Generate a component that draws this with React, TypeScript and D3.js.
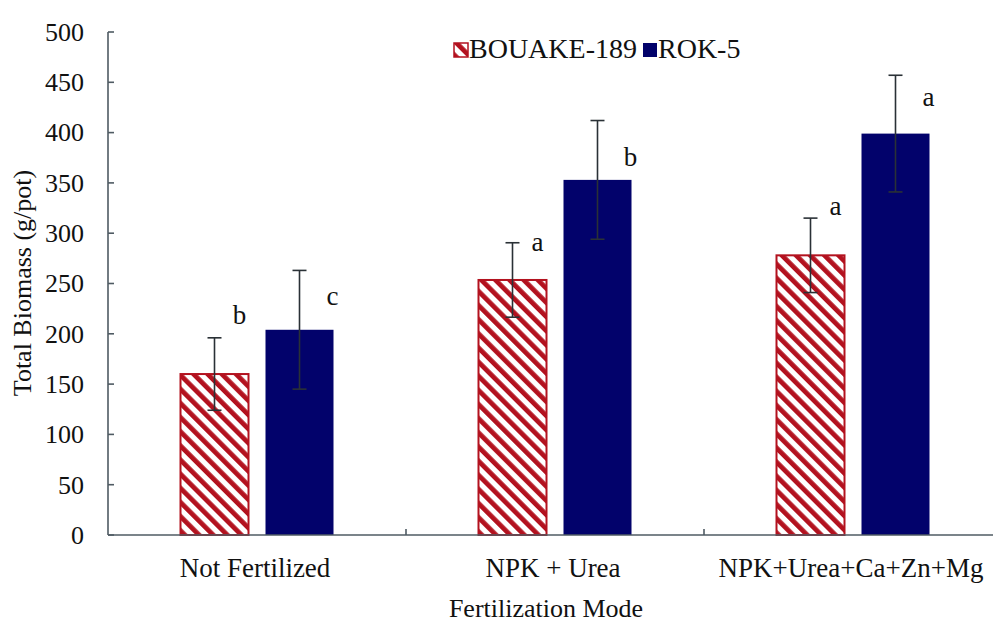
import React from "react";
import * as d3 from "d3";

const categories = ["Not Fertilized", "NPK + Urea", "NPK+Urea+Ca+Zn+Mg"];
const seriesNames = ["BOUAKE-189", "ROK-5"];
const bouakeValues = [160, 253.5, 278];
const rokValues = [204, 353, 399];
const bouakeErrors = [36, 37, 37];
const rokErrors = [59, 59, 58];
const bouakeLetters = ["b", "a", "a"];
const rokLetters = ["c", "b", "a"];
const bouakeLetterY = [210, 282, 318];
const rokLetterY = [229, 367, 426];
const yTicks = [0, 50, 100, 150, 200, 250, 300, 350, 400, 450, 500];

const W = 993;
const H = 622;
const margin = { left: 108, top: 32, bottom: 87 };
const FONT = "'Liberation Serif', 'Times New Roman', serif";
const NAVY = "#02026b";
const RED = "#b3121f";
const AXIS = "#4f5b63";

export default function App() {
  const y = d3.scaleLinear().domain([0, 500]).range([H - margin.bottom, margin.top]);
  const x = d3.scaleBand<string>().domain(categories).range([margin.left, margin.left + 894]).padding(0);
  const groupW = 153;
  const xs = d3.scaleBand<string>().domain(seriesNames).range([0, groupW]).paddingInner(0.2).paddingOuter(0);
  const bw = xs.bandwidth();
  const y0 = y(0);

  const series = [
    { name: seriesNames[0], values: bouakeValues, errors: bouakeErrors, letters: bouakeLetters, ly: bouakeLetterY, dx: 25 },
    { name: seriesNames[1], values: rokValues, errors: rokErrors, letters: rokLetters, ly: rokLetterY, dx: 33 },
  ];

  const barX = (cat: string, s: string) => (x(cat) as number) + (x.bandwidth() - groupW) / 2 + (xs(s) as number);

  return (
    <svg width={W} height={H} style={{ position: "absolute", left: 0, top: 0, background: "#fff" }}>
      <defs>
        <pattern id="hatch" patternUnits="userSpaceOnUse" width="10" height="10" patternTransform="rotate(-45)">
          <rect x="0" y="0" width="10" height="10" fill="#fff" />
          <rect x="0" y="0" width="4.8" height="10" fill={RED} />
        </pattern>
      </defs>
      <rect x={0} y={0} width={W} height={H} fill="#fff" />
      {/* bars */}
      {series.map((s, si) =>
        categories.map((c, ci) => {
          const bx = barX(c, s.name);
          const top = y(s.values[ci]);
          return si === 0 ? (
            <rect key={`${si}-${ci}`} x={bx} y={top} width={bw} height={y0 - top} fill="url(#hatch)" stroke={RED} strokeWidth={2} />
          ) : (
            <rect key={`${si}-${ci}`} x={bx} y={top} width={bw} height={y0 - top} fill={NAVY} />
          );
        })
      )}
      {/* error bars */}
      {series.map((s, si) =>
        categories.map((c, ci) => {
          const cx = barX(c, s.name) + bw / 2;
          const hi = y(s.values[ci] + s.errors[ci]);
          const lo = y(s.values[ci] - s.errors[ci]);
          return (
            <g key={`e${si}-${ci}`} stroke="#2a3136" strokeWidth={1.6}>
              <line x1={cx} x2={cx} y1={hi} y2={lo} />
              <line x1={cx - 7} x2={cx + 7} y1={hi} y2={hi} />
              <line x1={cx - 7} x2={cx + 7} y1={lo} y2={lo} />
            </g>
          );
        })
      )}
      {/* letters */}
      {series.map((s, si) =>
        categories.map((c, ci) => (
          <text key={`l${si}-${ci}`} x={barX(c, s.name) + bw / 2 + s.dx} y={y(s.ly[ci])} fontFamily={FONT} fontSize={27} textAnchor="middle" fill="#111">
            {s.letters[ci]}
          </text>
        ))
      )}
      {/* y axis */}
      <line x1={margin.left} x2={margin.left} y1={y(500)} y2={y0} stroke={AXIS} strokeWidth={1.6} />
      {yTicks.map((t) => (
        <g key={t}>
          <line x1={margin.left} x2={margin.left + 6} y1={y(t)} y2={y(t)} stroke={AXIS} strokeWidth={1.6} />
          <text x={84} y={y(t)} dy="0.34em" textAnchor="end" fontFamily={FONT} fontSize={26} fill="#111">
            {t}
          </text>
        </g>
      ))}
      {/* x axis */}
      <line x1={margin.left} x2={W} y1={y0} y2={y0} stroke={AXIS} strokeWidth={1.6} />
      {categories.slice(1).map((c) => (
        <line key={`t${c}`} x1={x(c) as number} x2={x(c) as number} y1={y0} y2={y0 - 6} stroke={AXIS} strokeWidth={1.6} />
      ))}
      {categories.map((c) => (
        <text key={`c${c}`} x={(x(c) as number) + x.bandwidth() / 2 - 2} y={577} textAnchor="middle" fontFamily={FONT} fontSize={27} fill="#111">
          {c}
        </text>
      ))}
      <text x={546} y={617} textAnchor="middle" fontFamily={FONT} fontSize={26} fill="#111">
        Fertilization Mode
      </text>
      <text transform={`translate(31, ${283}) rotate(-90)`} textAnchor="middle" fontFamily={FONT} fontSize={26} fill="#111">
        Total Biomass (g/pot)
      </text>
      {/* legend */}
      <rect x={454} y={43} width={14} height={14} fill="url(#hatch)" stroke={RED} strokeWidth={1.5} />
      <text x={469} y={58} fontFamily={FONT} fontSize={28} fill="#111">
        {seriesNames[0]}
      </text>
      <rect x={643} y={43} width={14} height={14} fill={NAVY} />
      <text x={658} y={58} fontFamily={FONT} fontSize={28} fill="#111">
        {seriesNames[1]}
      </text>
    </svg>
  );
}
